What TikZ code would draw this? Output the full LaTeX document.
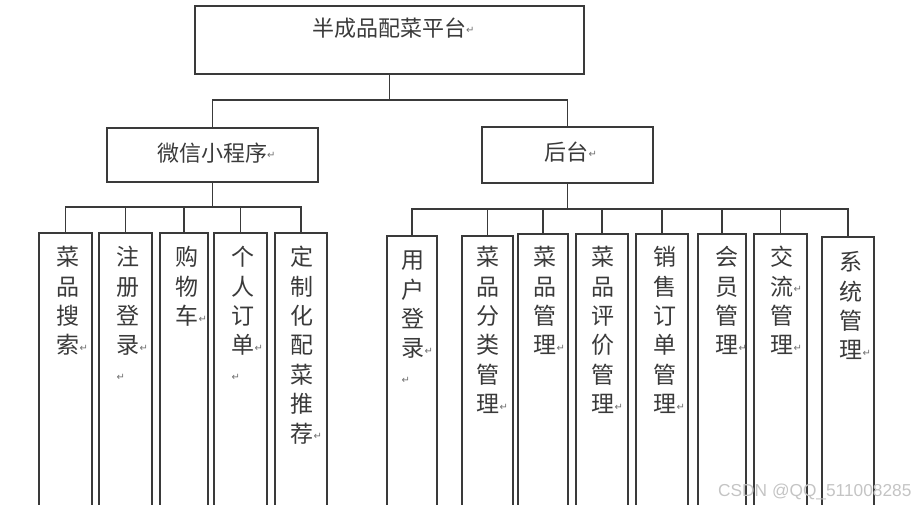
\documentclass[tikz,border=0pt]{standalone}
\usepackage{fontspec}
\setmainfont{Liberation Sans}
\newfontfamily\cjk{Noto Sans CJK SC}
\newfontfamily\symf{DejaVu Sans}
\definecolor{ln}{HTML}{3A3A3A}
\definecolor{tx}{HTML}{3A3A3A}
\definecolor{rt}{HTML}{707070}
\definecolor{wm}{HTML}{C4C4C4}
\newcommand\retmark{\raisebox{2.5pt}{\symf\fontsize{10}{10}\selectfont\textcolor{rt}{↵}}}
\newcommand\vcol[1]{\vtop{\baselineskip=29.4pt\lineskiplimit=-100pt #1}}
\begin{document}
\begin{tikzpicture}[x=1pt,y=-1pt,
  box/.style={draw=ln, line width=1.2pt, inner sep=0pt, outer sep=0pt},
  col/.style={box, anchor=north, minimum height=320pt},
  lbl/.style={text=tx, inner sep=0pt, anchor=base, font=\cjk\fontsize{22}{26}\selectfont},
  vlbl/.style={lbl, font=\cjk\fontsize{23}{29.4}\selectfont},
  wire/.style={draw=ln, line width=1.2pt}]
\path[use as bounding box] (0,0) rectangle (917,505);
\clip (0,0) rectangle (917,505);

% top level
\node[box, minimum width=389pt, minimum height=68pt] (top) at (389.5,40) {};
\node[lbl] (toptxt) at (389,36.4) {半成品配菜平台\rlap{\retmark}};
\node[box, minimum width=211pt, minimum height=54pt] (wx) at (212.5,155) {};
\node[lbl] (wxtxt) at (212,161.4) {微信小程序\rlap{\retmark}};
\node[box, minimum width=171pt, minimum height=56pt] (ht) at (567.5,155) {};
\node[lbl] (httxt) at (566.5,160.4) {后台\rlap{\retmark}};

% frontend columns
\node[col, minimum width=53pt] (f1) at (65.5,233) {};
\node[col, minimum width=53pt] (f2) at (125.5,233) {};
\node[col, minimum width=48pt] (f3) at (184,233) {};
\node[col, minimum width=53pt] (f4) at (240.5,233) {};
\node[col, minimum width=52pt] (f5) at (301,233) {};
% backend columns
\node[col, minimum width=50pt] (b1) at (412,236) {};
\node[col, minimum width=51pt] (b2) at (487.5,236) {};
\node[col, minimum width=50pt] (b3) at (543,234) {};
\node[col, minimum width=52pt] (b4) at (602,234) {};
\node[col, minimum width=52pt] (b5) at (662,234) {};
\node[col, minimum width=48pt] (b6) at (722,234) {};
\node[col, minimum width=53pt] (b7) at (780.5,234) {};
\node[col, minimum width=52pt] (b8) at (848,237) {};

% column texts
\node[vlbl] (t1) at (68,265.7) {\vcol{\hbox{菜}\hbox{品}\hbox{搜}\hbox{索\rlap{\retmark}}}};
\node[vlbl] (t2) at (128,265.7) {\vcol{\hbox{注}\hbox{册}\hbox{登}\hbox{录\rlap{\retmark}}\hbox{\retmark}}};
\node[vlbl] (t3) at (187,265.7) {\vcol{\hbox{购}\hbox{物}\hbox{车\rlap{\retmark}}}};
\node[vlbl] (t4) at (243,265.7) {\vcol{\hbox{个}\hbox{人}\hbox{订}\hbox{单\rlap{\retmark}}\hbox{\retmark}}};
\node[vlbl] (t5) at (302,265.7) {\vcol{\hbox{定}\hbox{制}\hbox{化}\hbox{配}\hbox{菜}\hbox{推}\hbox{荐\rlap{\retmark}}}};
\node[vlbl] (u1) at (413,268.7) {\vcol{\hbox{用}\hbox{户}\hbox{登}\hbox{录\rlap{\retmark}}\hbox{\retmark}}};
\node[vlbl] (u2) at (488,265.7) {\vcol{\hbox{菜}\hbox{品}\hbox{分}\hbox{类}\hbox{管}\hbox{理\rlap{\retmark}}}};
\node[vlbl] (u3) at (545,265.7) {\vcol{\hbox{菜}\hbox{品}\hbox{管}\hbox{理\rlap{\retmark}}}};
\node[vlbl] (u4) at (603,265.7) {\vcol{\hbox{菜}\hbox{品}\hbox{评}\hbox{价}\hbox{管}\hbox{理\rlap{\retmark}}}};
\node[vlbl] (u5) at (665,265.7) {\vcol{\hbox{销}\hbox{售}\hbox{订}\hbox{单}\hbox{管}\hbox{理\rlap{\retmark}}}};
\node[vlbl] (u6) at (727,265.7) {\vcol{\hbox{会}\hbox{员}\hbox{管}\hbox{理\rlap{\retmark}}}};
\node[vlbl] (u7) at (782,265.7) {\vcol{\hbox{交}\hbox{流\rlap{\retmark}}\hbox{管}\hbox{理\rlap{\retmark}}}};
\node[vlbl] (u8) at (851,270.7) {\vcol{\hbox{系}\hbox{统}\hbox{管}\hbox{理\rlap{\retmark}}}};

% connectors
\coordinate (tbar) at (0,100);
\coordinate (fbar) at (0,207);
\coordinate (bbar) at (0,209);
\draw[wire] (top.south) -- (top.south |- tbar) -| (wx.north);
\draw[wire] (top.south) -- (top.south |- tbar) -| (ht.north);
\foreach \c in {f1,f2,f3,f4,f5}
  \draw[wire] (wx.south) -- (wx.south |- fbar) -| (\c.north);
\foreach \c in {b1,b2,b3,b4,b5,b6,b7,b8}
  \draw[wire] (ht.south) -- (ht.south |- bbar) -| (\c.north);

% watermark
\node[anchor=base west, text=wm, inner sep=0pt, font=\fontsize{17.3}{20}\selectfont] (wmark) at (718,496) {CSDN @QQ\_511008285};
\end{tikzpicture}
\end{document}
